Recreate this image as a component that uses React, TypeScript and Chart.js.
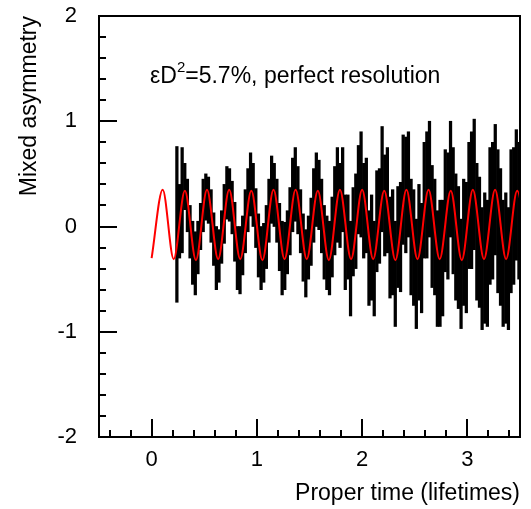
import React, { useEffect, useRef } from 'react';
import { Chart, registerables } from 'chart.js';

Chart.register(...registerables);

// ---- data ----
const BIN_START = 0.24;
const BIN_WIDTH = 0.025;

const asymValues = [
  0.02, 0.05, 0.25, 0.38, 0.20, -0.05, -0.25, -0.35, -0.20, 0.00,
  0.20, 0.28, 0.25, 0.10, -0.12, -0.30, -0.28, -0.10, 0.12, 0.32,
  0.30, 0.18, -0.05, -0.30, -0.32, -0.18, 0.05, 0.25, 0.40, 0.30,
  0.08, -0.18, -0.30, -0.25, -0.10, 0.15, 0.35, 0.30, 0.15, -0.10,
  -0.30, -0.28, -0.15, 0.05, 0.30, 0.40, 0.25, 0.05, -0.20, -0.35,
  -0.20, -0.05, 0.20, 0.35, 0.30, 0.10, -0.15, -0.25, -0.30, -0.10,
  0.15, 0.30, 0.20, 0.35, -0.15, -0.10, -0.40, -0.05, 0.05, 0.35,
  0.40, 0.15, 0.20, -0.30, -0.20, -0.40, 0.05, 0.10, 0.45, 0.20,
  0.25, -0.20, -0.15, -0.45, -0.10, -0.10, 0.35, 0.30, 0.40, -0.10,
  -0.20, -0.45, -0.15, -0.30, 0.25, 0.30, 0.45, 0.00, -0.10, -0.40,
  -0.35, -0.30, 0.15, 0.10, 0.45, 0.15, -0.10, -0.20, -0.45, -0.15,
  -0.20, 0.20, 0.25, 0.40, -0.05, -0.15, -0.40, -0.30, -0.35, 0.10,
  0.15, 0.35, 0.05, -0.10, -0.35, -0.30, -0.40, 0.05, 0.10, 0.30, 0.15,
];

const asymErrors = [
  0.74, 0.35, 0.50, 0.22, 0.25, 0.25, 0.30, 0.30, 0.25, 0.22,
  0.25, 0.22, 0.22, 0.25, 0.25, 0.30, 0.25, 0.25, 0.28, 0.25,
  0.25, 0.25, 0.28, 0.30, 0.32, 0.28, 0.30, 0.30, 0.30, 0.30,
  0.28, 0.30, 0.30, 0.28, 0.30, 0.30, 0.32, 0.30, 0.30, 0.32,
  0.35, 0.32, 0.30, 0.32, 0.35, 0.35, 0.32, 0.30, 0.32, 0.32,
  0.30, 0.32, 0.35, 0.35, 0.33, 0.35, 0.35, 0.35, 0.35, 0.38,
  0.42, 0.45, 0.40, 0.40, 0.45, 0.40, 0.45, 0.42, 0.45, 0.42,
  0.50, 0.45, 0.45, 0.45, 0.50, 0.45, 0.48, 0.45, 0.50, 0.48,
  0.50, 0.48, 0.50, 0.50, 0.48, 0.52, 0.52, 0.55, 0.50, 0.55,
  0.55, 0.52, 0.55, 0.52, 0.55, 0.60, 0.55, 0.58, 0.55, 0.55,
  0.60, 0.55, 0.58, 0.60, 0.55, 0.60, 0.60, 0.58, 0.52, 0.60,
  0.62, 0.60, 0.65, 0.62, 0.65, 0.62, 0.58, 0.62, 0.60, 0.65,
  0.65, 0.62, 0.68, 0.65, 0.60, 0.62, 0.58, 0.68, 0.65, 0.62, 0.65,
];

const curveTimes = [
  0, 0.105, 0.21, 0.316, 0.421, 0.526, 0.632, 0.737, 0.842, 0.947,
  1.053, 1.158, 1.263, 1.368, 1.474, 1.579, 1.684, 1.789, 1.895, 2.0,
  2.105, 2.21, 2.316, 2.421, 2.526, 2.631, 2.737, 2.842, 2.947, 3.052,
  3.158, 3.263, 3.368, 3.473, 3.579,
];
const curveValues = [
  -0.30, 0.35, -0.31, 0.34, -0.32, 0.35, -0.31, 0.35, -0.31, 0.34,
  -0.32, 0.35, -0.31, 0.35, -0.31, 0.34, -0.32, 0.35, -0.31, 0.35,
  -0.31, 0.34, -0.32, 0.35, -0.31, 0.35, -0.31, 0.34, -0.32, 0.35,
  -0.31, 0.35, -0.31, 0.34, -0.31,
];

const xTickValues = [0, 1, 2, 3];
const yTickValues = [-2, -1, 0, 1, 2];
const X_MIN = -0.5;
const X_MAX = 3.5;
const Y_MIN = -2;
const Y_MAX = 2;
const MINOR_STEP = 0.2;

const xTitle = 'Proper time (lifetimes)';
const yTitle = 'Mixed asymmetry';
const notePrefix = 'εD';
const noteSup = '2';
const noteRest = '=5.7%, perfect resolution';
const NOTE_X = -0.015;
const NOTE_Y = 1.36;

const FONT = '"Liberation Sans", Arial, Helvetica, sans-serif';

export default function App() {
  const ref = useRef<HTMLCanvasElement>(null);

  useEffect(() => {
    if (!ref.current) return;
    const bars = asymValues.map((v, i) => ({
      x: BIN_START + i * BIN_WIDTH,
      y: [v - asymErrors[i], v + asymErrors[i]],
    }));
    const curve = curveTimes.map((t, i) => ({ x: t, y: curveValues[i] }));

    const framePlugin = {
      id: 'frameTicks',
      afterDatasetsDraw(chart: any) {
        const { ctx, chartArea: a, scales } = chart;
        const xs = scales.x;
        const ys = scales.y;
        ctx.save();
        ctx.strokeStyle = '#000';
        ctx.lineWidth = 2;
        ctx.strokeRect(a.left, a.top, a.right - a.left, a.bottom - a.top);
        ctx.beginPath();
        const yk0 = Math.round(Y_MIN / MINOR_STEP);
        const yk1 = Math.round(Y_MAX / MINOR_STEP);
        for (let k = yk0; k <= yk1; k++) {
          const v = k * MINOR_STEP;
          const major = k % 5 === 0;
          const py = Math.round(ys.getPixelForValue(v));
          ctx.moveTo(a.left, py);
          ctx.lineTo(a.left + (major ? 18 : 7), py);
        }
        const xk0 = Math.ceil(X_MIN / MINOR_STEP);
        const xk1 = Math.floor(X_MAX / MINOR_STEP);
        for (let k = xk0; k <= xk1; k++) {
          const v = k * MINOR_STEP;
          const major = k % 5 === 0;
          const px = Math.round(xs.getPixelForValue(v));
          ctx.moveTo(px, a.bottom);
          ctx.lineTo(px, a.bottom - (major ? 18 : 7));
        }
        ctx.stroke();

        // annotation
        const nx = xs.getPixelForValue(NOTE_X);
        const ny = ys.getPixelForValue(NOTE_Y);
        ctx.fillStyle = '#000';
        ctx.textBaseline = 'alphabetic';
        ctx.textAlign = 'left';
        ctx.font = `23px ${FONT}`;
        ctx.fillText(notePrefix, nx, ny);
        let w = ctx.measureText(notePrefix).width;
        ctx.font = `15px ${FONT}`;
        ctx.fillText(noteSup, nx + w, ny - 11);
        w += ctx.measureText(noteSup).width;
        ctx.font = `23px ${FONT}`;
        ctx.fillText(noteRest, nx + w, ny);
        ctx.restore();
      },
    };

    const chart = new Chart(ref.current, {
      type: 'bar',
      data: {
        datasets: [
          {
            type: 'line',
            data: curve,
            borderColor: '#ff0000',
            borderWidth: 2,
            pointRadius: 0,
            cubicInterpolationMode: 'monotone',
            fill: false,
            clip: 0,
            order: 1,
          } as any,
          {
            type: 'bar',
            data: bars,
            backgroundColor: '#000000',
            borderWidth: 0,
            barThickness: 2.6,
            grouped: false,
            order: 2,
          } as any,
        ],
      },
      options: {
        animation: false,
        responsive: false,
        maintainAspectRatio: false,
        layout: { padding: { top: 16, right: 11, left: 0, bottom: 0 } },
        plugins: { legend: { display: false }, tooltip: { enabled: false } },
        scales: {
          x: {
            type: 'linear',
            min: X_MIN,
            max: X_MAX,
            offset: false,
            afterBuildTicks: (s: any) => {
              s.ticks = xTickValues.map((v) => ({ value: v }));
            },
            afterFit: (s: any) => {
              s.height = 72;
              s.paddingLeft = 0;
              s.paddingRight = 0;
              s.paddingTop = 0;
              s.paddingBottom = 0;
            },
            grid: { display: false, drawTicks: false },
            border: { display: false },
            ticks: {
              color: '#000',
              font: { family: FONT, size: 22 },
              padding: 10,
              maxRotation: 0,
              autoSkip: false,
            },
            title: {
              display: true,
              text: xTitle,
              align: 'end',
              color: '#000',
              font: { family: FONT, size: 23 },
              padding: { top: 0, bottom: 2 },
            },
          },
          y: {
            type: 'linear',
            min: Y_MIN,
            max: Y_MAX,
            afterBuildTicks: (s: any) => {
              s.ticks = yTickValues.map((v) => ({ value: v }));
            },
            afterFit: (s: any) => {
              s.width = 99;
              s.paddingLeft = 0;
              s.paddingRight = 0;
              s.paddingTop = 0;
              s.paddingBottom = 0;
            },
            grid: { display: false, drawTicks: false },
            border: { display: false },
            ticks: {
              color: '#000',
              font: { family: FONT, size: 22 },
              padding: 22,
              autoSkip: false,
            },
            title: {
              display: true,
              text: yTitle,
              align: 'end',
              color: '#000',
              font: { family: FONT, size: 23 },
              padding: { top: 16, bottom: 0 },
            },
          },
        },
      },
      plugins: [framePlugin],
    } as any);

    return () => chart.destroy();
  }, []);

  return (
    <div style={{ position: 'absolute', left: 0, top: 0, width: 531, height: 509, background: '#fff' }}>
      <canvas ref={ref} width={531} height={509} style={{ display: 'block' }} />
    </div>
  );
}
